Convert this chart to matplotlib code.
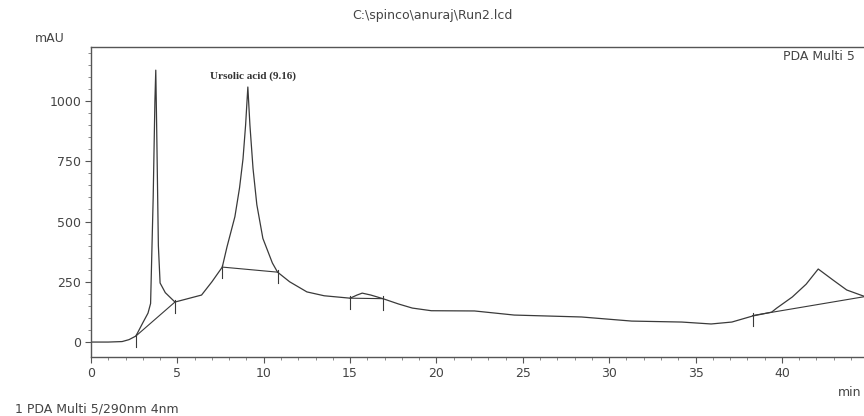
import matplotlib.pyplot as plt
import numpy as np

# chromatogram trace (min, mAU)
time_min = [0.0, 1.0, 1.8, 2.2, 2.6, 3.0, 3.3, 3.45, 3.6, 3.7, 3.75, 3.8, 3.9, 4.0, 4.3,
            4.86, 5.5, 6.4, 7.0, 7.6, 7.87, 8.33, 8.6, 8.8, 8.95, 9.08, 9.2, 9.38, 9.6,
            9.95, 10.5, 10.8, 11.5, 12.5, 13.5, 15.0, 15.4, 15.7, 16.2, 16.9, 17.8,
            18.6, 19.7, 22.2, 24.5, 28.4, 31.3, 34.2, 35.9, 37.1, 38.3, 39.4, 39.7,
            40.6, 41.4, 42.1, 43.0, 43.75, 44.75]
signal_mau = [0, 0, 2, 10, 25, 80, 120, 160, 600, 1000, 1128, 900, 400, 245, 205,
              166, 178, 195, 250, 311, 394, 520, 640, 760, 900, 1058, 900, 720, 570,
              430, 328, 290, 250, 208, 192, 182, 195, 203, 195, 180, 158,
              141, 130, 129, 112, 104, 87, 83, 75, 83, 108, 124, 141,
              187, 240, 303, 255, 216, 190]

# integration baselines (start, end) for the detected peaks
base_t0 = [2.6, 7.6, 15.0, 38.3]
base_y0 = [25, 311, 182, 110]
base_t1 = [4.86, 10.8, 16.9, 44.75]
base_y1 = [166, 290, 180, 188]

# peak start/stop marks
mark_t = [2.6, 4.86, 7.6, 10.8, 15.0, 16.9, 38.3]
mark_y = [25, 166, 311, 290, 182, 180, 110]

fig = plt.figure(figsize=(8.64, 4.16), dpi=100)
ax = fig.add_axes([91 / 864, 1 - 357 / 416, 1 - 91 / 864, 310 / 416])

line_col = '#3a3a3a'
ax.plot(time_min, signal_mau, color=line_col, lw=0.9)
for t0, y0, t1, y1 in zip(base_t0, base_y0, base_t1, base_y1):
    ax.plot([t0, t1], [y0, y1], color=line_col, lw=0.8)
for t, y in zip(mark_t, mark_y):
    ax.plot([t, t], [y + 10, y - 45], color=line_col, lw=0.8)

ax.set_xlim(0, 44.75)
ax.set_ylim(-62, 1224)
ax.set_xticks(np.arange(0, 45, 5))
ax.set_xticks(np.arange(0, 45, 1), minor=True)
ax.set_yticks([0, 250, 500, 750, 1000])
ax.set_yticks(np.arange(0, 1201, 50), minor=True)
ax.tick_params(which='major', length=4, width=0.8, color='#555555',
               labelsize=9, labelcolor='#444444', pad=3)
ax.tick_params(which='minor', length=2, width=0.6, color='#777777')

ax.spines['right'].set_visible(False)
for s in ['top', 'left', 'bottom']:
    ax.spines[s].set_color('#555555')
    ax.spines[s].set_linewidth(1.0)

ax.text(9.4, 1104, 'Ursolic acid (9.16)', family='Liberation Serif', fontsize=8,
        fontweight='bold', color='#333333', ha='center', va='center')

txt = dict(fontsize=9, color='#444444', va='center')
fig.text(432 / 864, 1 - 16 / 416, 'C:\\spinco\\anuraj\\Run2.lcd', ha='center', **txt)
fig.text(35 / 864, 1 - 38 / 416, 'mAU', ha='left', **txt)
fig.text(783 / 864, 1 - 57 / 416, 'PDA Multi 5', ha='left', **txt)
fig.text(861 / 864, 1 - 393 / 416, 'min', ha='right', **txt)
fig.text(15 / 864, 1 - 409 / 416, '1 PDA Multi 5/290nm 4nm', ha='left', **txt)

fig.savefig('out.png', dpi=100)
